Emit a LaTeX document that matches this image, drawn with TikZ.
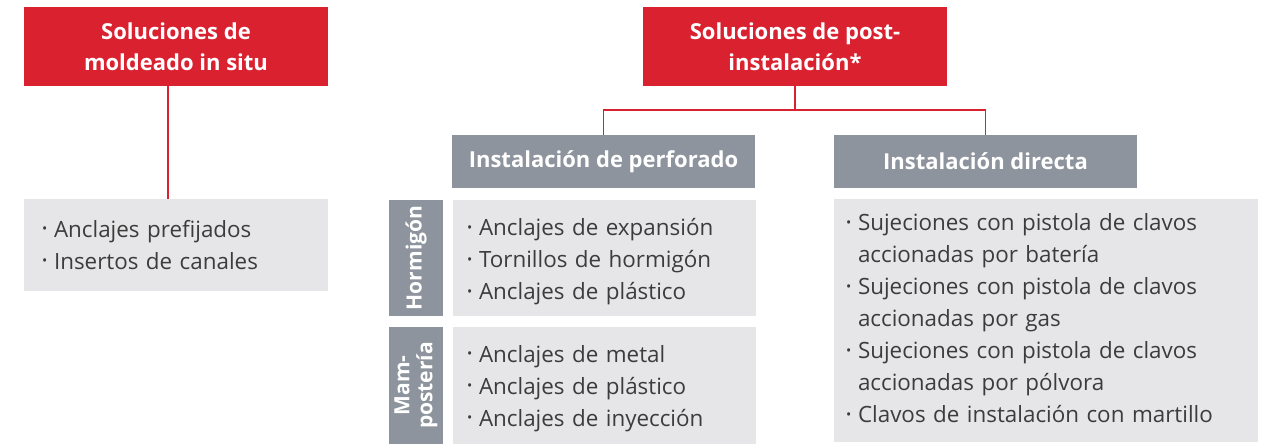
\documentclass[tikz,border=0pt]{standalone}
\usepackage{fontspec}
\setmainfont{Open Sans}
\definecolor{hred}{HTML}{DA2130}
\definecolor{hgray}{HTML}{8E949D}
\definecolor{lgray}{HTML}{E6E6E8}
\definecolor{txt}{HTML}{3C3C3C}
\newcommand\bl{\makebox[12pt][l]{\raisebox{0.3ex}{\scalebox{0.62}{•}}}}
\newcommand\ind{\hspace*{12pt}}
\tikzset{
  redbox/.style={fill=hred, text=white, font=\bfseries\fontsize{22}{31}\selectfont, align=center, inner sep=0pt, minimum width=304pt, minimum height=79pt},
  hdrbox/.style={fill=hgray, text=white, font=\bfseries\fontsize{22}{31}\selectfont, align=center, inner sep=0pt, minimum width=303pt, minimum height=53pt},
  sidebox/.style={fill=hgray, text=white, font=\bfseries\fontsize{21}{23}\selectfont, align=center, inner sep=0pt, rotate=90},
  listbox/.style={fill=lgray, inner sep=0pt},
  listtxt/.style={text=txt, font=\fontsize{22.4}{32}\selectfont, align=left, inner sep=0pt, anchor=west, text width=400pt},
  conn/.style={draw=hred, line width=1.5pt}
}
\begin{document}
\begin{tikzpicture}[x=1pt,y=-1pt]
\useasboundingbox (0,0) rectangle (1269,444);
\node[redbox] (r1) at (176,46.5) {Soluciones de\\moldeado in situ};
\node[redbox] (r2) at (795,46.5) {Soluciones de post-\\instalación*};
\node[listbox, minimum width=304pt, minimum height=92pt] (g1) at (176,245) {};
\node[listtxt] (t1) at ([xshift=18pt,yshift=0pt]g1.west) {\bl Anclajes prefijados\\\bl Insertos de canales};
\node[hdrbox] (h1) at (603.5,161.5) {Instalación de perforado};
\node[hdrbox] (h2) at (985.5,161.5) {Instalación directa};
\node[sidebox, minimum width=116pt, minimum height=54pt] (sH) at (416,258) {Hormigón};
\node[sidebox, minimum width=117pt, minimum height=54pt] (sM) at (416,385.5) {Mam-\\postería};
\node[listbox, minimum width=303pt, minimum height=116pt] (bH) at (604.5,258) {};
\node[listtxt] (tH) at ([xshift=14pt,yshift=-4pt]bH.west) {\bl Anclajes de expansión\\\bl Tornillos de hormigón\\\bl Anclajes de plástico};
\node[listbox, minimum width=303pt, minimum height=117pt] (bM) at (604.5,385.5) {};
\node[listtxt] (tM) at ([xshift=14pt,yshift=-3pt]bM.west) {\bl Anclajes de metal\\\bl Anclajes de plástico\\\bl Anclajes de inyección};
\node[listbox, minimum width=424pt, minimum height=243pt] (bD) at (1046,320.5) {};
\node[listtxt] (tD) at ([xshift=12pt,yshift=2pt]bD.west) {\bl Sujeciones con pistola de clavos\\\ind accionadas por batería\\\bl Sujeciones con pistola de clavos\\\ind accionadas por gas\\\bl Sujeciones con pistola de clavos\\\ind accionadas por pólvora\\\bl Clavos de instalación con martillo};
\draw[conn] ([xshift=-8pt]r1.south) -- ([xshift=-8pt]g1.north);
\coordinate (j) at ([yshift=-24pt]r2.south);
\draw[conn] (r2.south) -- (j) -| (h1.north);
\draw[conn] (j) -| (h2.north);
\end{tikzpicture}
\end{document}
